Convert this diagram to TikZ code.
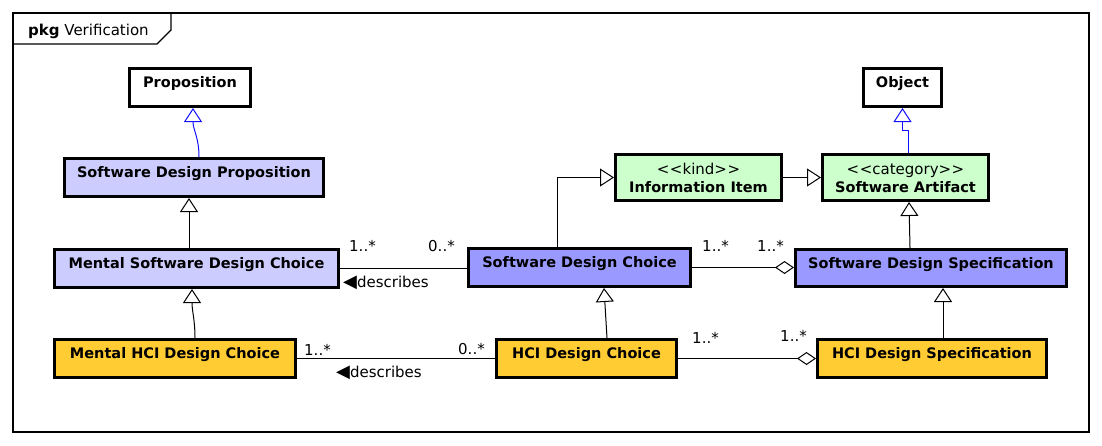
\documentclass[tikz,border=0pt]{standalone}
\usepackage{fontspec}
\setmainfont{DejaVu Sans}
\usetikzlibrary{arrows.meta}
\definecolor{lav}{HTML}{CCCCFF}
\definecolor{vio}{HTML}{9999FF}
\definecolor{mint}{HTML}{CCFFCC}
\definecolor{gold}{HTML}{FFCC33}
\definecolor{umlblue}{HTML}{1010FF}
\tikzset{
  cls/.style={draw, line width=3pt, inner sep=0pt,
    font=\fontsize{14.5}{17}\selectfont\bfseries, text height=8pt, text depth=8pt},
  clstwo/.style={draw, line width=3pt, inner sep=0pt,
    font=\fontsize{15}{18.7}\selectfont, text height=8pt, text depth=15pt},
  gen/.style={line width=1pt, -{Triangle[open, length=14pt, width=18pt, fill=white]}},
  agg/.style={line width=1pt, -{Diamond[open, length=19pt, width=13pt, fill=white]}},
  assoc/.style={line width=1pt},
  lbl/.style={font=\fontsize{15}{18}\selectfont, inner sep=0pt, anchor=base west},
  framepen/.style={line width=1.2pt},
}
\newcommand{\lefttri}{{\fontsize{18}{18}\selectfont ◀}}
\begin{document}
\begin{tikzpicture}[x=1pt,y=-1pt]
\useasboundingbox (0,0) rectangle (1102,445);
% frame
\draw[framepen] (13,13) rectangle (1089,432);
\draw[framepen] (13,44) -- (157,44) -- (171,30) -- (171,13);
\node[lbl] (title) at (28,35) {\textbf{pkg} Verification};

% classes
\node[cls, minimum width=121pt, minimum height=38pt] (prop) at (190,87.5) {Proposition};
\node[cls, minimum width=78pt, minimum height=38pt] (obj) at (902.5,87.5) {Object};
\node[cls, fill=lav, minimum width=259pt, minimum height=38pt] (sdp) at (194,177.5) {Software Design Proposition};
\node[clstwo, fill=mint, minimum width=166pt, minimum height=46pt] (info) at (698.5,177.5)
  {\begin{tabular}[t]{@{}c@{}}<\kern0.5pt<kind>\kern0.5pt>\\{\fontsize{14.5}{17}\selectfont\bfseries Information Item}\end{tabular}};
\node[clstwo, fill=mint, minimum width=166pt, minimum height=46pt] (sa) at (905.5,177.5)
  {\begin{tabular}[t]{@{}c@{}}<\kern0.5pt<category>\kern0.5pt>\\{\fontsize{14.5}{17}\selectfont\bfseries Software Artifact}\end{tabular}};
\node[cls, fill=lav, minimum width=284pt, minimum height=38pt] (msdc) at (196.5,268.5) {Mental Software Design Choice};
\node[cls, fill=vio, minimum width=222pt, minimum height=38pt] (sdc) at (579.5,267.5) {Software Design Choice};
\node[cls, fill=vio, minimum width=271pt, minimum height=37pt] (sds) at (931,268) {Software Design Specification};
\node[cls, fill=gold, minimum width=241pt, minimum height=38pt] (mhci) at (175,358.5) {Mental HCI Design Choice};
\node[cls, fill=gold, minimum width=180pt, minimum height=38pt] (hcidc) at (586.5,358.5) {HCI Design Choice};
\node[cls, fill=gold, minimum width=229pt, minimum height=38pt] (hcids) at (932,358.5) {HCI Design Specification};

% generalizations
\draw[gen, draw=umlblue] ([xshift=5pt]sdp.north) .. controls +(0,-20) and +(0,22) .. ([xshift=3pt]prop.south);
\draw[gen, draw=umlblue] ([xshift=2.5pt]sa.north) -- ++(0,-22.5) -| (obj.south);
\draw[gen] ([xshift=-7.5pt]msdc.north) -- ([xshift=-5pt]sdp.south);
\draw[gen] ([xshift=20pt]mhci.north) .. controls +(0,-18) and +(0,22) .. ([xshift=-4.5pt]msdc.south);
\draw[gen] ([xshift=20.5pt]hcidc.north) -- ([xshift=24.5pt]sdc.south);
\draw[gen] ([xshift=11pt]hcids.north) -- ([xshift=12pt]sds.south);
\draw[gen] ([xshift=-21pt]sds.north) -- ([xshift=3.5pt]sa.south);
\draw[gen] ([xshift=-22.5pt]sdc.north) |- (info.west);
\draw[gen] (info.east) -- (sa.west);

% associations
\draw[assoc] (msdc.east) -- (msdc.east -| sdc.west);
\draw[agg] (sdc.east) -- (sdc.east -| sds.west);
\draw[assoc] (mhci.east) -- (mhci.east -| hcidc.west);
\draw[agg] (hcidc.east) -- (hcidc.east -| hcids.west);

% labels
\node[lbl] (m1) at (349,251) {1..*};
\node[lbl] (m2) at (428,251) {0..*};
\node[lbl] (d1) at (343,287) {\lefttri describes};
\node[lbl] (m3) at (702,251) {1..*};
\node[lbl] (m4) at (757,251) {1..*};
\node[lbl] (m5) at (304,355) {1..*};
\node[lbl] (m6) at (458,354) {0..*};
\node[lbl] (d2) at (336,377) {\lefttri describes};
\node[lbl] (m7) at (692,343) {1..*};
\node[lbl] (m8) at (780,341) {1..*};
\end{tikzpicture}
\end{document}
